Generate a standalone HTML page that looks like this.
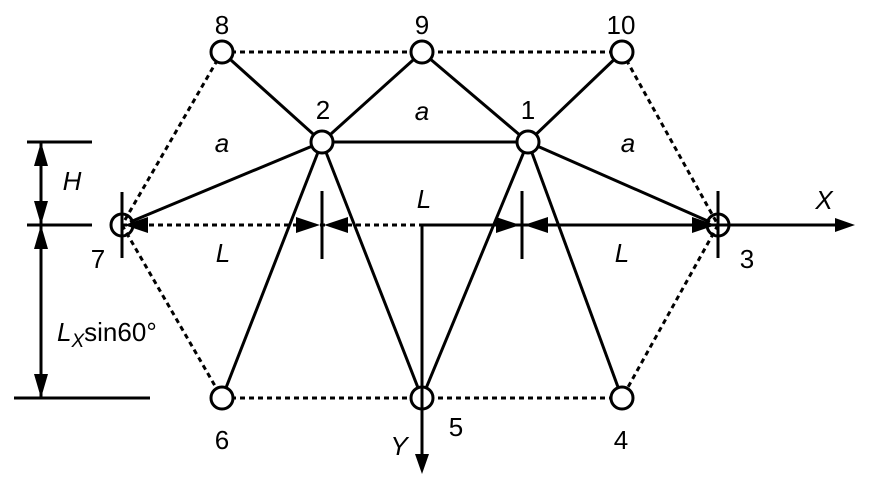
<!DOCTYPE html>
<html><head><meta charset="utf-8"><style>html,body{margin:0;padding:0;background:#fff}svg{display:block}</style></head><body>
<svg width="869" height="487" viewBox="0 0 869 487" xmlns="http://www.w3.org/2000/svg" font-family="Liberation Sans, Arial, sans-serif" font-size="26">
<g stroke="#000" stroke-width="3" fill="none">
<g stroke-dasharray="5,4">
<line x1="222" y1="52" x2="622" y2="52"/>
<line x1="222" y1="398" x2="622" y2="398"/>
<line x1="222" y1="52" x2="122" y2="225"/>
<line x1="122" y1="225" x2="222" y2="398"/>
<line x1="622" y1="52" x2="718" y2="225"/>
<line x1="718" y1="225" x2="622" y2="398"/>
<line x1="122" y1="225" x2="422" y2="225"/>
</g>
<line x1="222" y1="52" x2="322" y2="142"/>
<line x1="322" y1="142" x2="422" y2="52"/>
<line x1="422" y1="52" x2="528" y2="142"/>
<line x1="528" y1="142" x2="622" y2="52"/>
<line x1="322" y1="142" x2="528" y2="142"/>
<line x1="322" y1="142" x2="130" y2="222"/>
<line x1="528" y1="142" x2="710" y2="222"/>
<line x1="322" y1="142" x2="222" y2="398"/>
<line x1="322" y1="142" x2="422" y2="398"/>
<line x1="528" y1="142" x2="422" y2="398"/>
<line x1="528" y1="142" x2="622" y2="398"/>
<line x1="422" y1="225" x2="835" y2="225"/>
<line x1="422" y1="225" x2="422" y2="455"/>
<line x1="322" y1="191" x2="322" y2="259"/>
<line x1="522" y1="191" x2="522" y2="259"/>
<line x1="27" y1="142" x2="92" y2="142"/>
<line x1="27" y1="225" x2="92" y2="225"/>
<line x1="14" y1="398" x2="150" y2="398"/>
<line x1="41" y1="142" x2="41" y2="398"/>
</g>
<g fill="#000">
<polygon points="855,225 835,218 835,232"/>
<polygon points="422,474 415,454 429,454"/>
<polygon points="124,225 148,217 148,233"/>
<polygon points="320,225 296,217 296,233"/>
<polygon points="324,225 348,217 348,233"/>
<polygon points="520,225 496,217 496,233"/>
<polygon points="524,225 548,217 548,233"/>
<polygon points="716,225 692,217 692,233"/>
<polygon points="41,142 34,166 48,166"/>
<polygon points="41,225 34,201 48,201"/>
<polygon points="41,225 34,249 48,249"/>
<polygon points="41,398 34,374 48,374"/>
</g>
<g stroke="#000" stroke-width="3" fill="#fff">
<circle cx="222" cy="52" r="11"/><circle cx="422" cy="52" r="11"/><circle cx="622" cy="52" r="11"/>
<circle cx="322" cy="142" r="11"/><circle cx="528" cy="142" r="11"/>
<circle cx="222" cy="398" r="11"/><circle cx="422" cy="398" r="11"/><circle cx="622" cy="398" r="11"/>
</g>
<g stroke="#000" stroke-width="3" fill="none">
<circle cx="122" cy="225" r="11"/><circle cx="718" cy="225" r="11"/>
<line x1="122" y1="192" x2="122" y2="258"/><line x1="718" y1="191" x2="718" y2="258"/>
<line x1="422" y1="387" x2="422" y2="409"/><line x1="707" y1="225" x2="729" y2="225"/>
</g>
<g text-anchor="middle" fill="#000">
<text x="222" y="34">8</text><text x="422" y="34">9</text><text x="621" y="34">10</text>
<text x="323" y="119">2</text><text x="528" y="119">1</text>
<text x="98" y="268">7</text><text x="747" y="268">3</text>
<text x="222" y="449">6</text><text x="456" y="436">5</text><text x="621" y="449">4</text>
<text x="222" y="152" font-style="italic">a</text><text x="422" y="120" font-style="italic">a</text><text x="628" y="152" font-style="italic">a</text>
<text x="223" y="262" font-style="italic">L</text><text x="424" y="208" font-style="italic">L</text><text x="622" y="262" font-style="italic">L</text>
<text x="72" y="190" font-style="italic">H</text>
<text x="824" y="209" font-style="italic">X</text><text x="399" y="455" font-style="italic">Y</text>
</g>
<text x="57" y="341" fill="#000"><tspan font-style="italic">L</tspan><tspan font-style="italic" font-size="19" dy="6">X</tspan><tspan dy="-6">sin60°</tspan></text>
</svg>
</body></html>
